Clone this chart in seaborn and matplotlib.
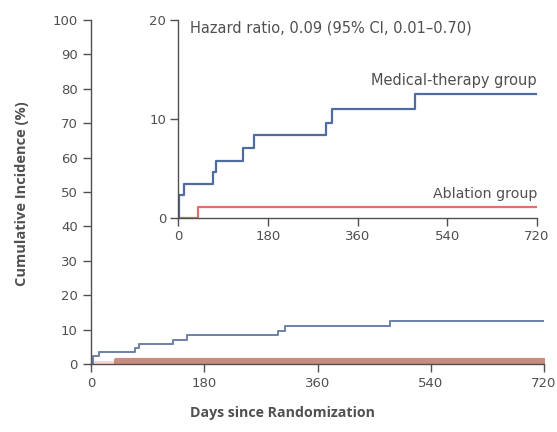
import matplotlib
matplotlib.use("Agg")
import matplotlib.pyplot as plt
import seaborn as sns
import pandas as pd

# Kaplan-Meier style cumulative incidence (%), step curves
med_days = [0, 3, 13, 70, 76, 131, 153, 297, 308, 475, 720]
med_pct = [0, 2.3, 3.4, 4.6, 5.8, 7.1, 8.4, 9.6, 11.0, 12.5, 12.5]
abl_days = [0, 40, 720]
abl_pct = [0, 1.07, 1.07]

x_ticks = [0, 180, 360, 540, 720]
main_y_ticks = [0, 10, 20, 30, 40, 50, 60, 70, 80, 90, 100]
inset_y_ticks = [0, 10, 20]

hr_text = "Hazard ratio, 0.09 (95% CI, 0.01\u20130.70)"
med_label = "Medical-therapy group"
abl_label = "Ablation group"

sns.set_theme(style="white")
plt.rcParams["font.family"] = ["DejaVu Sans"]

BLUE = "#4f6c9e"
BLUE_MAIN = "#6d80a8"
RED = "#d9736b"
BAND = "#c98d7e"
PINK = "#f6d6d4"
AX = "#505050"
TXT = "#505050"
LABEL_FONT = ["Open Sans", "DejaVu Sans"]

med = pd.DataFrame({"day": med_days, "pct": med_pct})
abl = pd.DataFrame({"day": abl_days, "pct": abl_pct})

fig = plt.figure(figsize=(5.57, 4.32), dpi=100)
ax = fig.add_axes([91 / 557, 1 - 364 / 432, 453 / 557, 344 / 432])
ins = fig.add_axes([178 / 557, 1 - 218 / 432, 359 / 557, 198 / 432])


def style(a, yticks, ylim, pad):
    a.set_xlim(0, 720)
    a.set_ylim(*ylim)
    a.set_xticks(x_ticks)
    a.set_yticks(yticks)
    a.set_xticklabels([str(t) for t in x_ticks])
    a.set_yticklabels([str(t) for t in yticks])
    for s in ("top", "right"):
        a.spines[s].set_visible(False)
    for s in ("left", "bottom"):
        a.spines[s].set_color(AX)
        a.spines[s].set_linewidth(1.0)
    a.tick_params(axis="both", direction="out", length=6, width=1.0,
                  color=AX, labelcolor=TXT, labelsize=9.5, pad=pad,
                  left=True, bottom=True)
    a.set_xlabel("")
    a.set_ylabel("")
    a.patch.set_alpha(0)


# Main panel
ax.fill_between([0, 40], [1.0, 1.0], 0, color=PINK, lw=0)
ax.fill_between([40, 720], [1.1, 1.1], 0, color=BAND, lw=3, edgecolor=BAND)
sns.lineplot(data=med, x="day", y="pct", ax=ax, estimator=None,
             drawstyle="steps-post", color=BLUE_MAIN, lw=1.4)
style(ax, main_y_ticks, (0, 100), pad=3.5)
ax.set_xlabel("Days since Randomization", fontsize=10.2, fontweight="bold",
              color=TXT, family=LABEL_FONT)
ax.xaxis.set_label_coords((282 - 91) / 453, -0.122)
ax.set_ylabel("Cumulative Incidence (%)", fontsize=10.5, fontweight="bold",
              color=TXT, family=LABEL_FONT)
ax.yaxis.set_label_coords(-0.136, 0.494)

# Inset panel
sns.lineplot(data=abl, x="day", y="pct", ax=ins, estimator=None,
             drawstyle="steps-post", color=RED, lw=1.6)
sns.lineplot(data=med, x="day", y="pct", ax=ins, estimator=None,
             drawstyle="steps-post", color=BLUE, lw=1.6)
style(ins, inset_y_ticks, (0, 20), pad=2.5)
ins.text(24, 19.2, hr_text, fontsize=10.5, color=TXT, va="center", ha="left")
ins.text(720, 13.9, med_label, fontsize=10.5, color=TXT, va="center", ha="right")
ins.text(720, 2.4, abl_label, fontsize=10.2, color=TXT, va="center", ha="right")

fig.savefig("out.png", dpi=100)
